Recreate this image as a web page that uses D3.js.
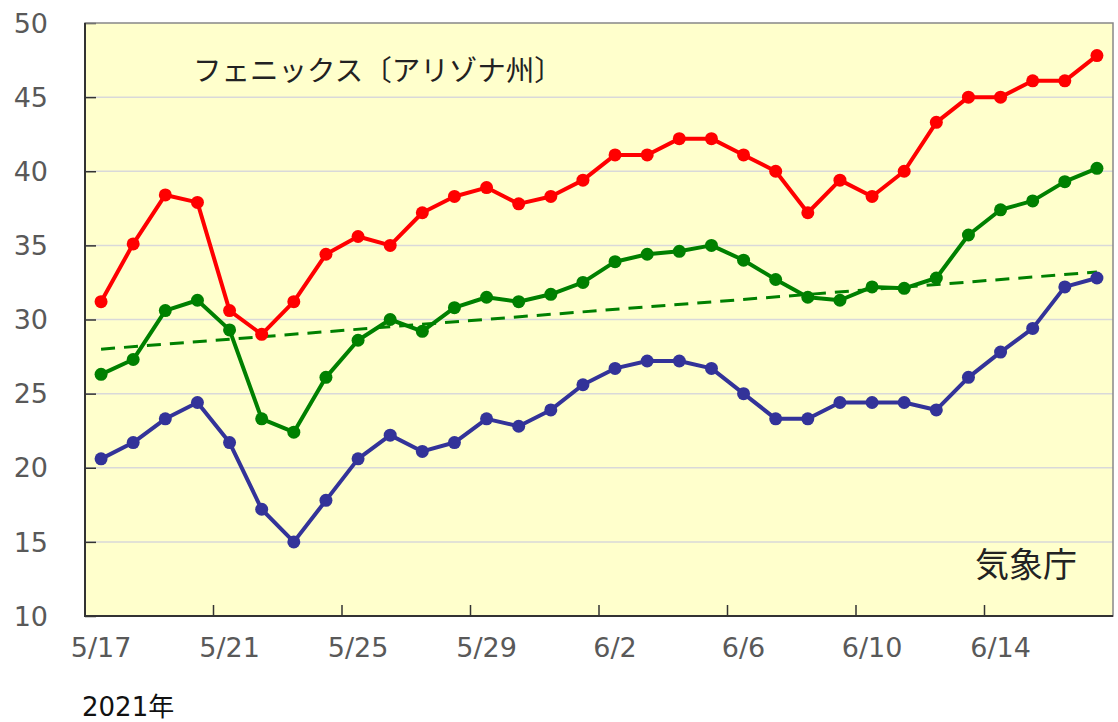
<!DOCTYPE html>
<html>
<head>
<meta charset="utf-8">
<script src="https://cdn.jsdelivr.net/npm/d3@7"></script>
<style>
  body { margin: 0; background: #fff; }
</style>
</head>
<body>
<script>
// 2021年5月17日〜6月17日 フェニックスの日最高・平均・最低気温
const dates = ["5/17","5/18","5/19","5/20","5/21","5/22","5/23","5/24","5/25","5/26","5/27","5/28","5/29","5/30","5/31","6/1",
  "6/2","6/3","6/4","6/5","6/6","6/7","6/8","6/9","6/10","6/11","6/12","6/13","6/14","6/15","6/16","6/17"];
const tMax = [31.2,35.1,38.4,37.9,30.6,29.0,31.2,34.4,35.6,35.0,37.2,38.3,38.9,37.8,38.3,39.4,
  41.1,41.1,42.2,42.2,41.1,40.0,37.2,39.4,38.3,40.0,43.3,45.0,45.0,46.1,46.1,47.8];
const tMean = [26.3,27.3,30.6,31.3,29.3,23.3,22.4,26.1,28.6,30.0,29.2,30.8,31.5,31.2,31.7,32.5,
  33.9,34.4,34.6,35.0,34.0,32.7,31.5,31.3,32.2,32.1,32.8,35.7,37.4,38.0,39.3,40.2];
const tMin = [20.6,21.7,23.3,24.4,21.7,17.2,15.0,17.8,20.6,22.2,21.1,21.7,23.3,22.8,23.9,25.6,
  26.7,27.2,27.2,26.7,25.0,23.3,23.3,24.4,24.4,24.4,23.9,26.1,27.8,29.4,32.2,32.8];
const normDates = ["5/17","6/17"];
const normMean = [28.0, 33.2];
const yTicks = [10,15,20,25,30,35,40,45,50];
const xLabels = ["5/17","5/21","5/25","5/29","6/2","6/6","6/10","6/14"];

const W = 1118, H = 722;
const m = {left: 85, top: 23, right: 5, bottom: 106};

const svg = d3.select("body").append("svg")
    .attr("width", W)
    .attr("height", H);

const x = d3.scaleBand()
    .domain(dates)
    .range([m.left, W - m.right]);

const y = d3.scaleLinear()
    .domain([10, 50])
    .range([H - m.bottom, m.top]);

const cx = d => x(d) + x.bandwidth() / 2;

// plot background
svg.append("rect")
    .attr("x", m.left)
    .attr("y", m.top)
    .attr("width", W - m.left - m.right)
    .attr("height", H - m.top - m.bottom)
    .attr("fill", "#ffffcc");

// gridlines
svg.append("g")
  .selectAll("line")
  .data(yTicks.slice(1, -1))
  .join("line")
    .attr("x1", m.left)
    .attr("x2", W - m.right)
    .attr("y1", d => y(d))
    .attr("y2", d => y(d))
    .attr("stroke", "#d9d9d9")
    .attr("stroke-width", 1.5);

// y ticks (inside) + labels
const yAxis = svg.append("g")
    .attr("transform", `translate(${m.left},0)`)
    .call(d3.axisRight(y).tickValues(yTicks).tickSize(11).tickFormat(""));
yAxis.select(".domain").remove();
yAxis.selectAll("line").attr("stroke", "#333").attr("stroke-width", 1.5);

svg.append("g")
  .selectAll("text")
  .data(yTicks)
  .join("text")
    .attr("x", 48)
    .attr("y", d => y(d))
    .attr("dy", "0.36em")
    .attr("text-anchor", "end")
    .attr("font-family", "DejaVu Sans, Verdana, sans-serif")
    .attr("font-size", 27)
    .attr("fill", "#595959")
    .text(d => d);

// x ticks every 4 days at category boundaries
const xTickDates = xLabels.slice(1);
svg.append("g")
  .selectAll("line")
  .data(xTickDates)
  .join("line")
    .attr("x1", d => x(d))
    .attr("x2", d => x(d))
    .attr("y1", H - m.bottom)
    .attr("y2", H - m.bottom - 11)
    .attr("stroke", "#333")
    .attr("stroke-width", 1.5);

svg.append("g")
  .selectAll("text")
  .data(xLabels)
  .join("text")
    .attr("x", d => cx(d))
    .attr("y", 647)
    .attr("dy", "0.36em")
    .attr("text-anchor", "middle")
    .attr("font-family", "DejaVu Sans, Verdana, sans-serif")
    .attr("font-size", 27)
    .attr("fill", "#595959")
    .text(d => d);

// frame
svg.append("rect")
    .attr("x", m.left)
    .attr("y", m.top)
    .attr("width", W - m.left - m.right)
    .attr("height", H - m.top - m.bottom)
    .attr("fill", "none")
    .attr("stroke", "#888")
    .attr("stroke-width", 1.5);
svg.append("path")
    .attr("d", `M${m.left},${m.top}V${H - m.bottom}H${W - m.right}`)
    .attr("fill", "none")
    .attr("stroke", "#333")
    .attr("stroke-width", 2);

// normal (dashed)
svg.append("line")
    .attr("x1", cx(normDates[0]))
    .attr("y1", y(normMean[0]))
    .attr("x2", cx(normDates[1]))
    .attr("y2", y(normMean[1]))
    .attr("stroke", "#008000")
    .attr("stroke-width", 3)
    .attr("stroke-dasharray", "14,9");

const series = [
  {values: tMax, color: "#ff0000"},
  {values: tMean, color: "#008000"},
  {values: tMin, color: "#333399"}
];

const line = d3.line()
    .x((d, i) => cx(dates[i]))
    .y(d => y(d));

const g = svg.append("g")
  .selectAll("g")
  .data(series)
  .join("g");

g.append("path")
    .attr("d", d => line(d.values))
    .attr("fill", "none")
    .attr("stroke", d => d.color)
    .attr("stroke-width", 4)
    .attr("stroke-linejoin", "round");

g.selectAll("circle")
  .data(d => d.values.map(v => ({v, color: d.color})))
  .join("circle")
    .attr("cx", (d, i) => cx(dates[i]))
    .attr("cy", d => y(d.v))
    .attr("r", 6.5)
    .attr("fill", d => d.color);

// texts
svg.append("text")
    .attr("x", 193)
    .attr("y", 81)
    .attr("font-family", "Noto Sans CJK JP, sans-serif")
    .attr("font-size", 28.5)
    .attr("fill", "#222")
    .text("フェニックス〔アリゾナ州〕");

svg.append("text")
    .attr("x", 975)
    .attr("y", 577)
    .attr("font-family", "Noto Sans CJK JP, sans-serif")
    .attr("font-size", 34)
    .attr("fill", "#222")
    .text("気象庁");

svg.append("text")
    .attr("x", 82)
    .attr("y", 716)
    .attr("font-family", "DejaVu Sans, Noto Sans CJK JP, sans-serif")
    .attr("font-size", 26)
    .attr("fill", "#111")
    .text("2021年");
</script>
</body>
</html>
